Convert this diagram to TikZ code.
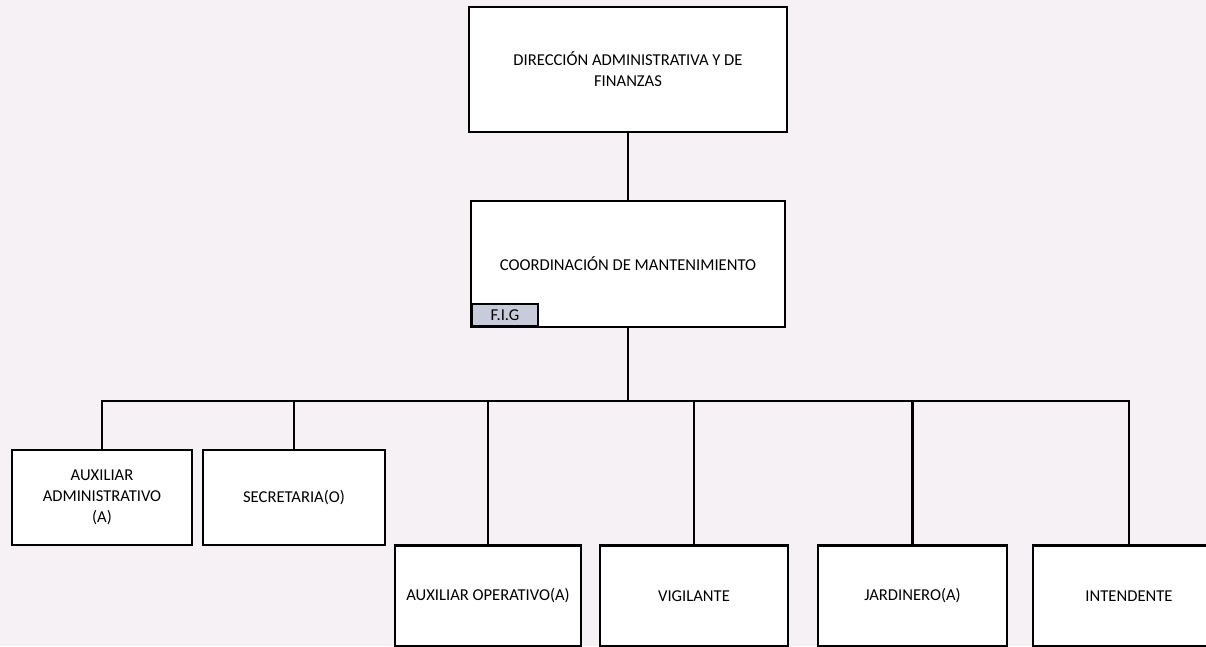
\documentclass[tikz,border=0pt]{standalone}
\usepackage{fontspec}
\setmainfont{Carlito}
\usetikzlibrary{positioning}
\definecolor{figfill}{RGB}{200,203,218}
\definecolor{pagebg}{RGB}{246,241,244}

\begin{document}
\begin{tikzpicture}
[x=1pt, y=-1pt, every node/.style={inner sep=0pt, font=\fontsize{16.6}{21}\selectfont, align=center}]
\useasboundingbox (0,0) rectangle (1206,646);
\fill [pagebg] (0,0) rectangle (1206,646);
\node (1) [rectangle, minimum width=318pt, minimum height=125pt, fill=white, line width=2.8pt, draw=black] at (628.0, 69.5) {DIRECCIÓN ADMINISTRATIVA Y DE\\FINANZAS};
\node (2) [rectangle, minimum width=314pt, minimum height=126pt, fill=white, line width=2.8pt, draw=black] at (628.0, 264.0) {COORDINACIÓN DE MANTENIMIENTO};
\node (3) [rectangle, minimum width=66pt, minimum height=22pt, fill=figfill, line width=1.8pt, draw=black, anchor=south west] at (471.0, 327.0) {F.I.G};
\node (4) [rectangle, minimum width=180pt, minimum height=95pt, fill=white, line width=2.8pt, draw=black] at (102.0, 497.5) {AUXILIAR\\ADMINISTRATIVO\\(A)};
\node (5) [rectangle, minimum width=182pt, minimum height=95pt, fill=white, line width=2.8pt, draw=black] at (294.0, 497.5) {SECRETARIA(O)};
\node (6) [rectangle, minimum width=186pt, minimum height=101pt, fill=white, line width=2.8pt, draw=black] at (488.0, 596.0) {AUXILIAR OPERATIVO(A)};
\node (7) [rectangle, minimum width=188pt, minimum height=101pt, fill=white, line width=2.8pt, draw=black] at (694.0, 596.0) {VIGILANTE};
\node (8) [rectangle, minimum width=189pt, minimum height=101pt, fill=white, line width=2.8pt, draw=black] at (912.5, 596.0) {JARDINERO(A)};
\node (9) [rectangle, minimum width=192pt, minimum height=101pt, fill=white, line width=2.8pt, draw=black] at (1129.0, 596.0) {INTENDENTE};
\coordinate (10) at (628.0, 401.0);
\draw [line width=2.8pt, color=black] (1) to (2);
\draw [line width=2.8pt, color=black] (2) to (10);
\draw [line width=2.8pt, color=black] (10) -| (4);
\draw [line width=2.8pt, color=black] (10) -| (5);
\draw [line width=2.8pt, color=black] (10) -| (6);
\draw [line width=2.8pt, color=black] (10) -| (7);
\draw [line width=2.8pt, color=black] (10) -| (8);
\draw [line width=2.8pt, color=black] (10) -| (9);
\end{tikzpicture}
\end{document}
